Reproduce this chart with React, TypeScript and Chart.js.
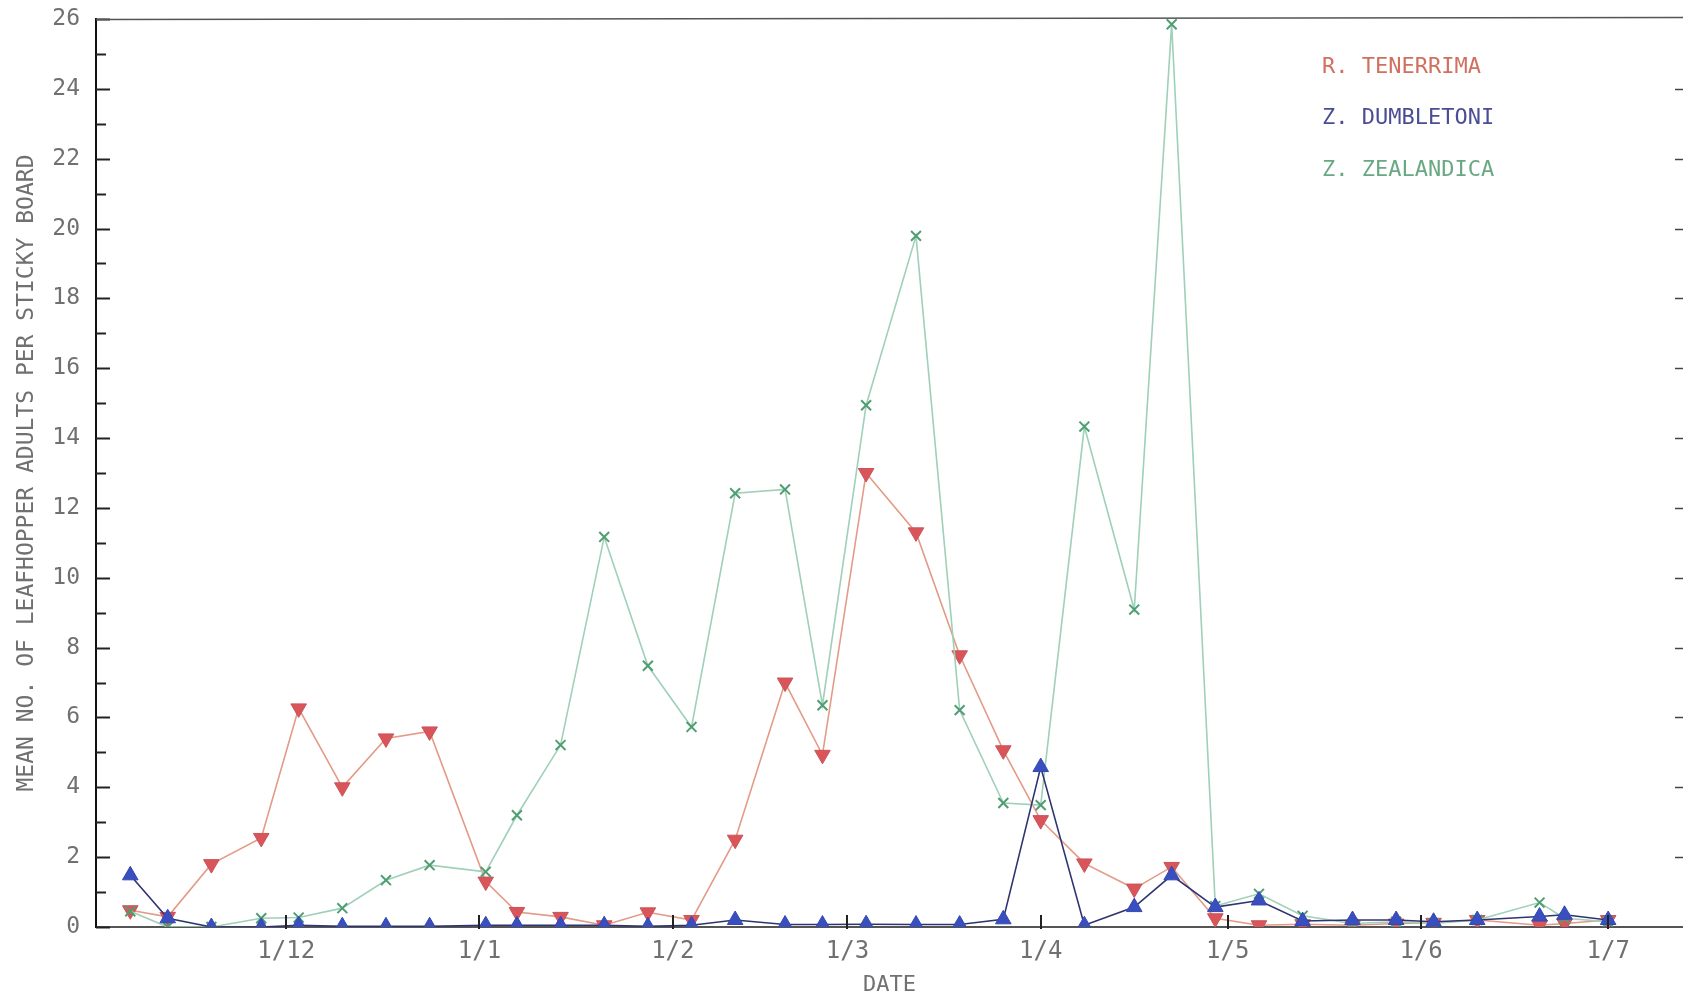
import { useEffect, useRef } from 'react';
import { Chart, registerables } from 'chart.js';

Chart.register(...registerables);

// Collection dates, counted in days from 1 December (roughly weekly boards)
const sampleDay = [
  -25, -19, -12, -4, 2, 9, 16, 23, 32, 37, 44, 51, 58, 65, 72, 80, 86, 93,
  101, 108, 115, 121, 128, 136, 142, 149, 156, 163, 171, 178, 184, 191, 201, 205, 212,
];

// Mean adults per sticky board for each species
const tenerrima = [
  0.48, 0.29, 1.8, 2.55, 6.26, 4.0, 5.4, 5.6, 1.3, 0.43, 0.29, 0.05, 0.42, 0.2, 2.5, 7.0,
  4.93, 13.0, 11.3, 7.78, 5.06, 3.06, 1.82, 1.1, 1.72, 0.25, 0.05, 0.08, 0.05, 0.1, 0.12,
  0.2, 0.05, 0.1, 0.2,
];
const dumbletoni = [
  1.48, 0.25, 0.0, 0.0, 0.05, 0.02, 0.02, 0.02, 0.05, 0.05, 0.05, 0.05, 0.02, 0.05, 0.2,
  0.07, 0.07, 0.08, 0.07, 0.07, 0.22, 4.58, 0.05, 0.57, 1.48, 0.57, 0.76, 0.17, 0.2, 0.2,
  0.15, 0.2, 0.3, 0.35, 0.2,
];
const zealandica = [
  0.45, 0.0, 0.0, 0.25, 0.27, 0.54, 1.34, 1.77, 1.58, 3.2, 5.21, 11.17, 7.48, 5.73, 12.42,
  12.53, 6.35, 14.94, 19.79, 6.21, 3.55, 3.49, 14.33, 9.09, 25.85, 0.6, 0.95, 0.32, 0.1,
  0.15, 0.1, 0.2, 0.7, 0.25, 0.15,
];

// First of each month on the date axis
const monthDay = [0, 31, 62, 90, 121, 151, 182, 212];
const monthLabel = ['1/12', '1/1', '1/2', '1/3', '1/4', '1/5', '1/6', '1/7'];

const seriesNames = ['R. TENERRIMA', 'Z. DUMBLETONI', 'Z. ZEALANDICA'];
const legendColors = ['#d0705f', '#4a4d96', '#6aa884'];

const MONO = "'DejaVu Sans Mono', 'Liberation Mono', monospace";
const TEXT = '#707070';

// Inward tick marks, top frame line and the coloured species key
const plotFrame = {
  id: 'plotFrame',
  afterDraw(chart: any) {
    const { ctx, chartArea } = chart;
    const x = chart.scales.x;
    const y = chart.scales.y;
    ctx.save();
    ctx.strokeStyle = '#222';
    ctx.lineWidth = 2;
    for (let v = 0; v <= 26; v++) {
      const py = Math.round(y.getPixelForValue(v)) + 0.5;
      const len = v % 2 === 0 ? 14 : 10;
      ctx.beginPath();
      ctx.moveTo(chartArea.left, py);
      ctx.lineTo(chartArea.left + len, py);
      ctx.stroke();
    }
    ctx.strokeStyle = '#444';
    ctx.lineWidth = 1.5;
    for (let v = 2; v < 26; v += 2) {
      const py = Math.round(y.getPixelForValue(v)) + 0.5;
      ctx.beginPath();
      ctx.moveTo(chartArea.right, py);
      ctx.lineTo(chartArea.right - 8, py);
      ctx.stroke();
    }
    ctx.strokeStyle = '#222';
    ctx.lineWidth = 2;
    for (const d of monthDay) {
      const px = Math.round(x.getPixelForValue(d));
      ctx.beginPath();
      ctx.moveTo(px, chartArea.bottom + 2);
      ctx.lineTo(px, chartArea.bottom - 12);
      ctx.stroke();
    }
    ctx.strokeStyle = '#555';
    ctx.lineWidth = 1.5;
    ctx.beginPath();
    ctx.moveTo(chartArea.left, chartArea.top + 0.5);
    ctx.lineTo(chartArea.right, chartArea.top - 1.5);
    ctx.stroke();

    ctx.font = `22px ${MONO}`;
    ctx.textAlign = 'left';
    ctx.textBaseline = 'middle';
    seriesNames.forEach((name, i) => {
      ctx.fillStyle = legendColors[i];
      ctx.fillText(name, chartArea.right - 361, chartArea.top + 48 + i * 51.5);
    });
    ctx.restore();
  },
};

export default function App() {
  const canvasRef = useRef<HTMLCanvasElement | null>(null);

  useEffect(() => {
    const canvas = canvasRef.current;
    if (!canvas) return;
    const pts = (vals: number[]) => vals.map((v, i) => ({ x: sampleDay[i], y: v }));

    const chart = new Chart(canvas, {
      type: 'line',
      data: {
        datasets: [
          {
            label: seriesNames[0],
            data: pts(tenerrima),
            order: 2,
            borderColor: '#e39a86',
            borderWidth: 1.6,
            pointStyle: 'triangle',
            pointRotation: 180,
            pointRadius: 9,
            pointBackgroundColor: '#d9555a',
            pointBorderColor: '#c9545a',
            pointBorderWidth: 1,
            tension: 0,
          },
          {
            label: seriesNames[1],
            data: pts(dumbletoni),
            order: 0,
            borderColor: '#2e3470',
            borderWidth: 1.6,
            pointStyle: 'triangle',
            pointRadius: 9,
            pointBackgroundColor: '#3a4fbf',
            pointBorderColor: '#3448b0',
            pointBorderWidth: 1,
            tension: 0,
          },
          {
            label: seriesNames[2],
            data: pts(zealandica),
            order: 1,
            borderColor: '#9fd0b8',
            borderWidth: 1.6,
            pointStyle: 'crossRot',
            pointRadius: 7,
            pointBorderColor: '#4f9e72',
            pointBorderWidth: 2,
            tension: 0,
          },
        ],
      },
      options: {
        responsive: false,
        devicePixelRatio: 1,
        animation: false,
        events: [],
        layout: { autoPadding: false, padding: { top: 19, right: 0, bottom: 0, left: 0 } },
        plugins: {
          legend: { display: false },
          tooltip: { enabled: false },
        },
        scales: {
          x: {
            type: 'linear',
            min: -30.5,
            max: 224,
            afterBuildTicks: (scale: any) => {
              scale.ticks = monthDay.map((d) => ({ value: d }));
            },
            afterFit: (scale: any) => {
              scale.height = 72;
              scale.paddingLeft = 0;
              scale.paddingRight = 0;
            },
            ticks: {
              autoSkip: false,
              maxRotation: 0,
              padding: 10,
              color: TEXT,
              font: { family: MONO, size: 24 },
              callback: (v: any) => {
                const i = monthDay.indexOf(Number(v));
                return i >= 0 ? monthLabel[i] : '';
              },
            },
            grid: { drawOnChartArea: false, drawTicks: false },
            border: { display: true, color: '#555', width: 2 },
            title: {
              display: true,
              text: 'DATE',
              color: TEXT,
              font: { family: MONO, size: 22 },
              padding: { top: 0, bottom: 1 },
            },
          },
          y: {
            min: 0,
            max: 26,
            afterFit: (scale: any) => {
              scale.width = 96;
              scale.paddingTop = 0;
              scale.paddingBottom = 0;
            },
            ticks: {
              stepSize: 2,
              padding: 16,
              color: TEXT,
              font: { family: MONO, size: 23 },
            },
            grid: { drawOnChartArea: false, drawTicks: false },
            border: { display: true, color: '#111', width: 2 },
            title: {
              display: true,
              text: 'MEAN NO. OF LEAFHOPPER ADULTS PER STICKY BOARD',
              color: TEXT,
              font: { family: MONO, size: 23 },
              padding: { top: 13, bottom: 0 },
            },
          },
        },
      },
      plugins: [plotFrame],
    } as any);

    return () => chart.destroy();
  }, []);

  return (
    <div
      style={{
        position: 'fixed',
        left: 0,
        top: 0,
        width: 1683,
        height: 999,
        background: '#fff',
        overflow: 'hidden',
      }}
    >
      <canvas ref={canvasRef} width={1683} height={999} style={{ display: 'block' }} />
    </div>
  );
}
